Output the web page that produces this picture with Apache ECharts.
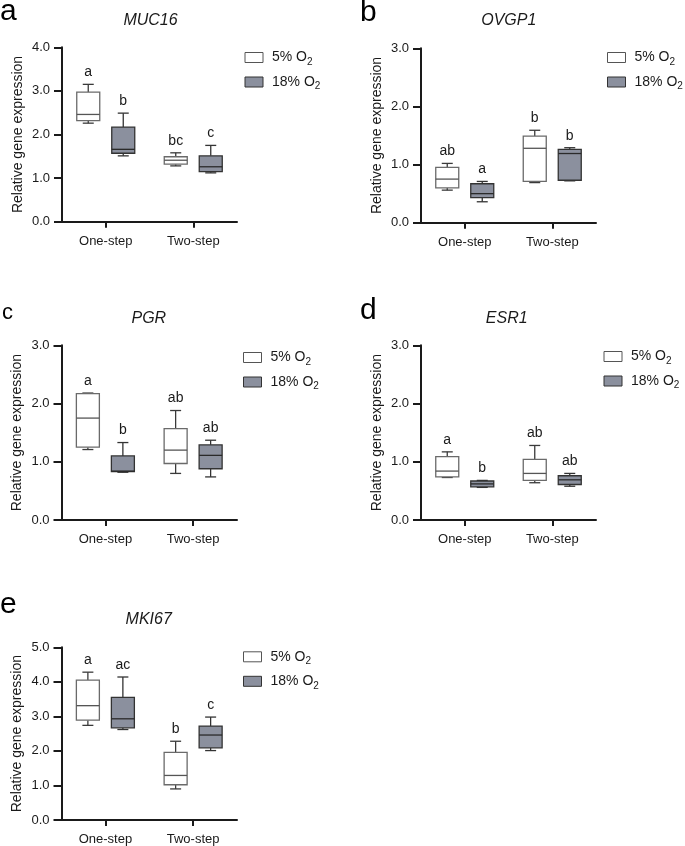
<!DOCTYPE html>
<html>
<head>
<meta charset="utf-8">
<script src="https://cdn.jsdelivr.net/npm/echarts@6/dist/echarts.min.js"></script>
<style>html,body{margin:0;padding:0;background:#fff}#c{width:685px;height:846px}</style>
</head>
<body>
<div id="c"></div>
<script>
// ---------- data ----------
const categories = ['One-step', 'Two-step'];
const groupNames = ['5% O2', '18% O2'];
// each box: [min, Q1, median, Q3, max]
const muc16Low  = [[2.26, 2.32, 2.46, 2.97, 3.15], [1.28, 1.32, 1.41, 1.49, 1.58]];
const muc16High = [[1.51, 1.57, 1.66, 2.17, 2.49], [1.12, 1.15, 1.26, 1.51, 1.75]];
const muc16LettersLow = ['a', 'bc'];
const muc16LettersHigh = ['b', 'c'];
const muc16Ticks = [0, 1, 2, 3, 4];

const ovgp1Low  = [[0.56, 0.60, 0.75, 0.95, 1.02], [0.69, 0.71, 1.28, 1.49, 1.59]];
const ovgp1High = [[0.36, 0.43, 0.50, 0.67, 0.71], [0.72, 0.73, 1.19, 1.26, 1.29]];
const ovgp1LettersLow = ['ab', 'b'];
const ovgp1LettersHigh = ['a', 'b'];
const ovgp1Ticks = [0, 1, 2, 3];

const pgrLow  = [[1.21, 1.25, 1.75, 2.17, 2.18], [0.80, 0.97, 1.20, 1.57, 1.88]];
const pgrHigh = [[0.82, 0.83, 0.84, 1.10, 1.33], [0.74, 0.88, 1.11, 1.29, 1.37]];
const pgrLettersLow = ['a', 'ab'];
const pgrLettersHigh = ['b', 'ab'];
const pgrTicks = [0, 1, 2, 3];

const esr1Low  = [[0.73, 0.74, 0.84, 1.09, 1.17], [0.64, 0.68, 0.80, 1.04, 1.28]];
const esr1High = [[0.56, 0.57, 0.62, 0.67, 0.68], [0.58, 0.61, 0.69, 0.76, 0.80]];
const esr1LettersLow = ['a', 'ab'];
const esr1LettersHigh = ['b', 'ab'];
const esr1Ticks = [0, 1, 2, 3];

const mki67Low  = [[2.74, 2.89, 3.31, 4.05, 4.28], [0.90, 1.02, 1.29, 1.96, 2.28]];
const mki67High = [[2.62, 2.67, 2.93, 3.55, 4.14], [2.01, 2.09, 2.46, 2.72, 2.98]];
const mki67LettersLow = ['a', 'b'];
const mki67LettersHigh = ['ac', 'c'];
const mki67Ticks = [0, 1, 2, 3, 4, 5];

const geneNames = ['MUC16', 'OVGP1', 'PGR', 'ESR1', 'MKI67'];
const panelLetters = ['a', 'b', 'c', 'd', 'e'];
const yAxisTitle = 'Relative gene expression';

// ---------- layout / style ----------
const FONT = '"Liberation Sans", Arial, sans-serif';
const INK = '#1a1a1a';
const GRAY_FILL = '#8b909e';

const panels = [
  { low: muc16Low, high: muc16High, lLow: muc16LettersLow, lHigh: muc16LettersHigh, ticks: muc16Ticks,
    grid: { left: 62, top: 47.3, width: 175, height: 174.4 }, legend: [244.5, 50.5],
    title: [150.5, 20.5], letter: [0, 11.3, 30] },
  { low: ovgp1Low, high: ovgp1High, lLow: ovgp1LettersLow, lHigh: ovgp1LettersHigh, ticks: ovgp1Ticks,
    grid: { left: 421, top: 48.3, width: 175, height: 174.4 }, legend: [607, 50.5],
    title: [508.8, 20.8], letter: [360, 12.3, 30] },
  { low: pgrLow, high: pgrHigh, lLow: pgrLettersLow, lHigh: pgrLettersHigh, ticks: pgrTicks,
    grid: { left: 61.5, top: 345.3, width: 175.5, height: 174.7 }, legend: [243, 350.5],
    title: [148.8, 318.3], letter: [2, 313.1, 22] },
  { low: esr1Low, high: esr1High, lLow: esr1LettersLow, lHigh: esr1LettersHigh, ticks: esr1Ticks,
    grid: { left: 421, top: 345.3, width: 175, height: 174.7 }, legend: [603.5, 349.5],
    title: [506.7, 318.7], letter: [360, 310.3, 30] },
  { low: mki67Low, high: mki67High, lLow: mki67LettersLow, lHigh: mki67LettersHigh, ticks: mki67Ticks,
    grid: { left: 61.5, top: 647.3, width: 175.5, height: 174.4 }, legend: [243, 649.8],
    title: [148.7, 619.2], letter: [0, 604.6, 30] }
];

const BOX_HALF = 11.5, CAP_HALF = 5.5, OFFSET = 17.5;

function makeRender(letters, offset, fill, boxStroke, whiskerStroke, medianStroke) {
  return function (params, api) {
    const cat = api.value(0);
    const cx = api.coord([cat, 0])[0] + offset;
    const yy = k => api.coord([cat, api.value(k)])[1];
    const yMin = yy(1), yQ1 = yy(2), yMed = yy(3), yQ3 = yy(4), yMax = yy(5);
    const lw = 1.3;
    const ln = (x1, y1, x2, y2, c) => ({ type: 'line', shape: { x1, y1, x2, y2 }, style: { stroke: c, lineWidth: lw } });
    return {
      type: 'group',
      children: [
        ln(cx, yMax, cx, yQ3, whiskerStroke),
        ln(cx, yQ1, cx, yMin, whiskerStroke),
        ln(cx - CAP_HALF, yMax, cx + CAP_HALF, yMax, whiskerStroke),
        ln(cx - CAP_HALF, yMin, cx + CAP_HALF, yMin, whiskerStroke),
        { type: 'rect', shape: { x: cx - BOX_HALF, y: yQ3, width: BOX_HALF * 2, height: yQ1 - yQ3 },
          style: { fill: fill, stroke: boxStroke, lineWidth: lw } },
        ln(cx - BOX_HALF, yMed, cx + BOX_HALF, yMed, medianStroke),
        { type: 'text', x: cx, y: yMax - 12,
          style: { text: letters[params.dataIndex], font: '14px ' + FONT, fill: INK,
                   align: 'center', verticalAlign: 'middle', textAlign: 'center', textVerticalAlign: 'middle' } }
      ]
    };
  };
}

const option = { animation: false, backgroundColor: '#fff',
  grid: [], xAxis: [], yAxis: [], series: [], legend: [], graphic: [] };

panels.forEach((p, i) => {
  option.grid.push(Object.assign({ containLabel: false }, p.grid));
  option.xAxis.push({
    type: 'category', gridIndex: i, data: categories, boundaryGap: true,
    axisLine: { show: true, lineStyle: { color: INK, width: 2 } },
    axisTick: { show: true, alignWithLabel: true, length: 6, lineStyle: { color: INK, width: 2 } },
    axisLabel: { fontSize: 13, fontFamily: FONT, color: INK, margin: 13 },
    splitLine: { show: false }
  });
  const t = p.ticks;
  option.yAxis.push({
    type: 'value', gridIndex: i, min: t[0], max: t[t.length - 1], interval: t[1] - t[0],
    name: yAxisTitle, nameLocation: 'middle', nameGap: 37, nameRotate: 90,
    nameTextStyle: { fontSize: 14, fontFamily: FONT, color: INK },
    axisLine: { show: true, lineStyle: { color: INK, width: 2 } },
    axisTick: { show: true, length: 8, lineStyle: { color: INK, width: 2 } },
    axisLabel: { fontSize: 13, fontFamily: FONT, color: INK, margin: 12, formatter: v => v.toFixed(1) },
    splitLine: { show: false }
  });
  option.series.push({
    type: 'custom', name: groupNames[0], xAxisIndex: i, yAxisIndex: i,
    itemStyle: { color: '#ffffff', borderColor: '#555' },
    encode: { x: 0, y: [1, 2, 3, 4, 5] },
    data: p.low.map((b, k) => [k].concat(b)),
    renderItem: makeRender(p.lLow, -OFFSET, '#ffffff', '#6a6a6a', '#3a3a3a', '#555')
  });
  option.series.push({
    type: 'custom', name: groupNames[1], xAxisIndex: i, yAxisIndex: i,
    itemStyle: { color: GRAY_FILL, borderColor: '#333' },
    encode: { x: 0, y: [1, 2, 3, 4, 5] },
    data: p.high.map((b, k) => [k].concat(b)),
    renderItem: makeRender(p.lHigh, OFFSET, GRAY_FILL, '#333', '#333', '#2a2a2a')
  });
  option.legend.push({
    orient: 'vertical', left: p.legend[0], top: p.legend[1], padding: 0,
    itemWidth: 18, itemHeight: 10, itemGap: 8, selectedMode: false,
    data: [
      { name: groupNames[0], icon: 'rect', itemStyle: { color: '#ffffff', borderColor: '#555', borderWidth: 1 } },
      { name: groupNames[1], icon: 'rect', itemStyle: { color: GRAY_FILL, borderColor: '#333', borderWidth: 1 } }
    ],
    formatter: n => n.replace('O2', 'O{s|2}'),
    textStyle: { fontSize: 14, fontFamily: FONT, color: INK, padding: [0, 0, 0, 4],
      rich: { s: { fontSize: 10, fontFamily: FONT, color: INK, padding: [9, 0, 0, 0] } } }
  });
  option.graphic.push({
    type: 'text', x: p.title[0], y: p.title[1],
    style: { text: geneNames[i], font: 'italic 16px ' + FONT, fill: INK,
             align: 'center', verticalAlign: 'middle', textAlign: 'center', textVerticalAlign: 'middle' }
  });
  option.graphic.push({
    type: 'text', x: p.letter[0], y: p.letter[1],
    style: { text: panelLetters[i], font: p.letter[2] + 'px ' + FONT, fill: '#000',
             align: 'left', verticalAlign: 'middle', textAlign: 'left', textVerticalAlign: 'middle' }
  });
});

const chart = echarts.init(document.getElementById('c'), null, { renderer: 'canvas' });
chart.setOption(option);
</script>
</body>
</html>
